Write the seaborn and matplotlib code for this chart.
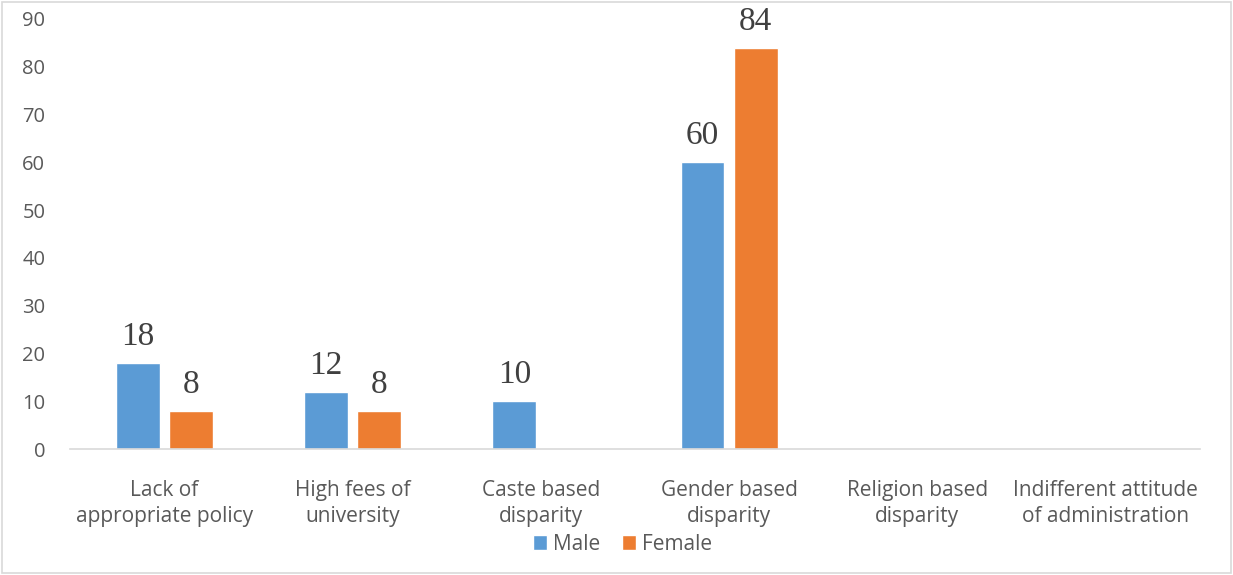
import matplotlib
matplotlib.use('Agg')
import matplotlib.pyplot as plt
import seaborn as sns
import pandas as pd
from matplotlib.patches import Rectangle

# Chart data
categories = ['Lack of\nappropriate policy', 'High fees of\nuniversity', 'Caste based\ndisparity',
              'Gender based\ndisparity', 'Religion based\ndisparity', 'Indifferent attitude\nof administration']
male = [18, 12, 10, 60, 0, 0]
female = [8, 8, 0, 84, 0, 0]
series_names = ['Male', 'Female']
y_ticks = [0, 10, 20, 30, 40, 50, 60, 70, 80, 90]

df = pd.DataFrame({
    'Category': categories * 2,
    'Value': male + female,
    'Gender': [series_names[0]] * len(categories) + [series_names[1]] * len(categories),
})

sns.set_style('white')
plt.rcParams['font.family'] = ['Open Sans', 'DejaVu Sans']

text_grey = '#595959'
fig = plt.figure(figsize=(12.33, 5.75), dpi=100)
ax = fig.add_axes([0.057, 0.219, 0.916, 0.748])

sns.barplot(data=df, x='Category', y='Value', hue='Gender', order=categories,
            hue_order=series_names, palette=['#5B9BD5', '#ED7D31'],
            width=0.565, gap=0.18, ax=ax, saturation=1, errorbar=None)

# Value labels above non-zero bars
for cont in ax.containers:
    labels = [f'{v:.0f}' if v > 0 else '' for v in cont.datavalues]
    ax.bar_label(cont, labels=labels, padding=8, fontsize=24,
                 family='Liberation Serif', color='#404040')

ax.set_ylim(0, 90)
ax.set_xlim(-0.5, len(categories) - 0.5)
ax.set_yticks(y_ticks)
ax.tick_params(axis='y', length=0, labelsize=14.5, labelcolor=text_grey, pad=18)
ax.tick_params(axis='x', length=0, labelsize=15, labelcolor=text_grey, pad=22)
for lbl in ax.get_xticklabels():
    lbl.set_linespacing(1.35)
ax.set_xlabel('')
ax.set_ylabel('')
for side in ['left', 'right', 'top']:
    ax.spines[side].set_visible(False)
ax.spines['bottom'].set_color('#D9D9D9')
ax.spines['bottom'].set_linewidth(1.2)

ax.legend(loc='center', bbox_to_anchor=(0.489, -0.222), ncol=2, frameon=False,
          fontsize=15, labelcolor=text_grey, handlelength=0.7, handleheight=0.7,
          handletextpad=0.3, columnspacing=1.0)

# Chart border
fig.patches.append(Rectangle((0.002, 0.003), 0.996, 0.994, transform=fig.transFigure,
                             fill=False, edgecolor='#D9D9D9', linewidth=1.2))

plt.savefig('out.png', dpi=100)
plt.close()
